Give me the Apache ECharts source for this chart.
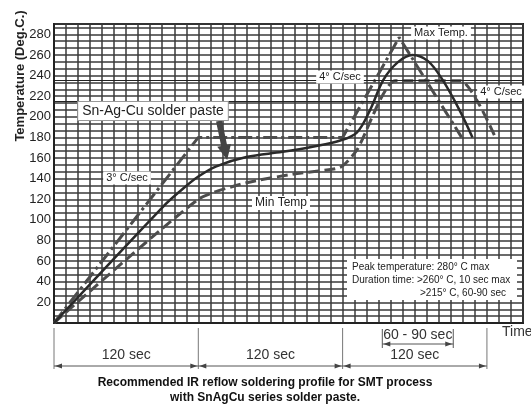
<!DOCTYPE html>
<html>
<head>
<meta charset="utf-8">
<script src="https://cdn.jsdelivr.net/npm/echarts@6/dist/echarts.min.js"></script>
<style>
  html, body { margin: 0; padding: 0; background: #fff; }
  #chart { width: 531px; height: 410px; }
</style>
</head>
<body>
<div id="chart"></div>
<script>
// recommended profile (solid line), seconds / deg C
const recSec  = [0, 90, 105, 120, 135, 160, 190, 215, 238, 252, 263, 274, 286, 298, 311, 323, 337, 348];
const recTemp = [0, 112, 128, 142, 152, 161, 166, 171, 177, 185, 207, 236, 253, 260, 254, 236, 207, 180];
// upper limit (dash-dot)
const maxSec  = [0, 120, 240, 287, 339];
const maxTemp = [0, 180, 180, 277, 180];
// lower limit (dashed)
const minSec  = [0, 120, 160, 202, 238, 252, 284, 338, 367];
const minTemp = [0, 120, 136, 145, 151, 168, 235, 235, 180];
// reference lines
const refTemps = [215, 235];
// time dimension marks below the chart
const segmentMarks  = [0, 120, 240, 360];
const segmentLabels = ['120 sec', '120 sec', '120 sec'];
const windowMarks   = [273, 332];
const windowLabel   = '60 - 90 sec';
const yLabelStep = 20;

const FONT = '"Liberation Sans", Arial, sans-serif';
const pairs = (xs, ys) => xs.map((x, i) => [x, ys[i]]);

const chart = echarts.init(document.getElementById('chart'));

const option = {
  animation: false,
  backgroundColor: '#fff',
  grid: {
    left: 54, right: 8, top: 24, bottom: 87,
    show: true, borderColor: '#222', borderWidth: 2,
    outerBoundsMode: 'none'
  },
  xAxis: {
    type: 'value', min: 0, max: 390, interval: 10,
    axisLabel: { show: false },
    axisTick: { show: false },
    axisLine: { show: true, lineStyle: { color: '#222', width: 2 } },
    splitLine: { show: true, lineStyle: { color: '#3a3a3a', width: 1.5 } }
  },
  yAxis: {
    type: 'value', min: 0, max: 290, interval: yLabelStep / 3,
    axisTick: { show: false },
    axisLine: { show: true, lineStyle: { color: '#222', width: 2 } },
    splitLine: { show: true, lineStyle: { color: '#3a3a3a', width: 1.5 } },
    axisLabel: {
      margin: 3, fontSize: 13, color: '#222', fontFamily: FONT,
      formatter: function (v) {
        const k = v / yLabelStep;
        if (v < 1 || Math.abs(k - Math.round(k)) > 1e-6) return '';
        return String(Math.round(v));
      }
    }
  },
  series: [
    {
      name: 'max', type: 'line', data: pairs(maxSec, maxTemp),
      showSymbol: false, silent: true,
      lineStyle: { color: '#4d4d4d', width: 3, type: [14, 4, 3, 4] }
    },
    {
      name: 'min', type: 'line', data: pairs(minSec, minTemp),
      showSymbol: false, silent: true, smooth: 0.2,
      lineStyle: { color: '#4d4d4d', width: 3, type: [11, 5] },
      markLine: {
        silent: true, symbol: 'none', label: { show: false },
        lineStyle: { color: '#222', width: 1.2, type: 'solid' },
        data: refTemps.map(t => ({ yAxis: t }))
      }
    },
    {
      name: 'recommended', type: 'line', data: pairs(recSec, recTemp),
      showSymbol: false, silent: true, smooth: 0.35,
      lineStyle: { color: '#2a2a2a', width: 2.5 }
    }
  ]
};
chart.setOption(option);

const px = (s, t) => chart.convertToPixel({ gridIndex: 0 }, [s, t]);

function txt(x, y, text, size, opts) {
  opts = opts || {};
  return {
    type: 'text', x: x, y: y, z: 100, rotation: opts.rotation || 0,
    style: Object.assign({
      text: text, font: (opts.bold ? 'bold ' : '') + size + 'px ' + FONT,
      fill: opts.color || '#222',
      align: opts.align || 'center', textAlign: opts.align || 'center',
      verticalAlign: 'middle', textVerticalAlign: 'middle'
    }, opts.box ? { backgroundColor: '#fff', padding: opts.pad || [1, 3] } : {},
       opts.border ? { borderColor: '#999', borderWidth: 1 } : {})
  };
}
function arrowHead(x, y, dir) {
  return { type: 'polygon', z: 100,
    shape: { points: [[x, y], [x - dir * 7, y - 2.5], [x - dir * 7, y + 2.5]] },
    style: { fill: '#444' } };
}
function vline(x, ya, yb, color) {
  return { type: 'line', z: 100, shape: { x1: x, y1: ya, x2: x, y2: yb },
    style: { stroke: color || '#777', lineWidth: 1 } };
}

const g = [];
const y0 = px(0, 0)[1];

// big time segments
const mx = segmentMarks.map(s => px(s, 0)[0]);
mx.forEach(x => g.push(vline(x, y0 + 5, y0 + 46)));
g.push({ type: 'line', z: 100, shape: { x1: mx[0], y1: y0 + 43, x2: mx[mx.length - 1], y2: y0 + 43 },
  style: { stroke: '#555', lineWidth: 1 } });
segmentLabels.forEach((lab, i) => {
  g.push(arrowHead(mx[i] + 1, y0 + 43, -1));
  g.push(arrowHead(mx[i + 1] - 1, y0 + 43, 1));
  g.push(txt((mx[i] + mx[i + 1]) / 2, y0 + 32, lab, 14, { color: '#333' }));
});

// 60-90 sec window
const wx = windowMarks.map(s => px(s, 0)[0]);
wx.forEach(x => g.push(vline(x, y0 + 6, y0 + 25, '#555')));
g.push({ type: 'line', z: 100, shape: { x1: wx[0], y1: y0 + 21, x2: wx[1], y2: y0 + 21 },
  style: { stroke: '#555', lineWidth: 1 } });
g.push(arrowHead(wx[0] + 1, y0 + 21, -1));
g.push(arrowHead(wx[1] - 1, y0 + 21, 1));
g.push(txt((wx[0] + wx[1]) / 2, y0 + 12, windowLabel, 14, { color: '#333' }));
g.push(txt(502, y0 + 9, 'Time', 14, { align: 'left', color: '#333' }));

// axis title
g.push(txt(20, 76, 'Temperature (Deg.C.)', 13, { bold: true, rotation: Math.PI / 2 }));

// caption
g.push(txt(265, 383, 'Recommended IR reflow soldering profile for SMT process', 12, { bold: true, color: '#111' }));
g.push(txt(265, 398, 'with SnAgCu series solder paste.', 12, { bold: true, color: '#111' }));

// in-plot notes
g.push(txt(127, 178, '3\u00b0 C/sec', 11, { box: true }));
g.push(txt(281, 203, 'Min Temp', 12, { box: true }));
g.push(txt(340, 77, '4\u00b0 C/sec', 11, { box: true }));
g.push(txt(441, 33, 'Max Temp.', 11, { box: true }));
g.push(txt(501, 92, '4\u00b0 C/sec', 11, { box: true }));
g.push(txt(153, 111, 'Sn-Ag-Cu solder paste', 14, { box: true, pad: [2, 4], border: true }));

// thick arrow from the paste label to the recommended curve
(function () {
  const tip = px(144, 158);
  const tail = [219, 121];
  const dx = tip[0] - tail[0], dy = tip[1] - tail[1];
  const len = Math.sqrt(dx * dx + dy * dy);
  const ux = dx / len, uy = dy / len, nx = -uy, ny = ux;
  const hb = [tip[0] - ux * 15, tip[1] - uy * 15];
  g.push({ type: 'polygon', z: 99, shape: { points: [
    [tail[0] + nx * 3, tail[1] + ny * 3], [hb[0] + nx * 3, hb[1] + ny * 3],
    [hb[0] + nx * 7, hb[1] + ny * 7], tip,
    [hb[0] - nx * 7, hb[1] - ny * 7], [hb[0] - nx * 3, hb[1] - ny * 3],
    [tail[0] - nx * 3, tail[1] - ny * 3]] }, style: { fill: '#444' } });
})();

// info box
g.push({ type: 'rect', z: 99, shape: { x: 347, y: 259, width: 170, height: 41 }, style: { fill: '#fff' } });
g.push(txt(352, 267, 'Peak temperature: 280\u00b0 C max', 10, { align: 'left' }));
g.push(txt(352, 280, 'Duration time: >260\u00b0 C, 10 sec max', 10, { align: 'left' }));
g.push(txt(420, 293, '>215\u00b0 C, 60-90 sec', 10, { align: 'left' }));

chart.setOption({ graphic: { elements: g } });
</script>
</body>
</html>
